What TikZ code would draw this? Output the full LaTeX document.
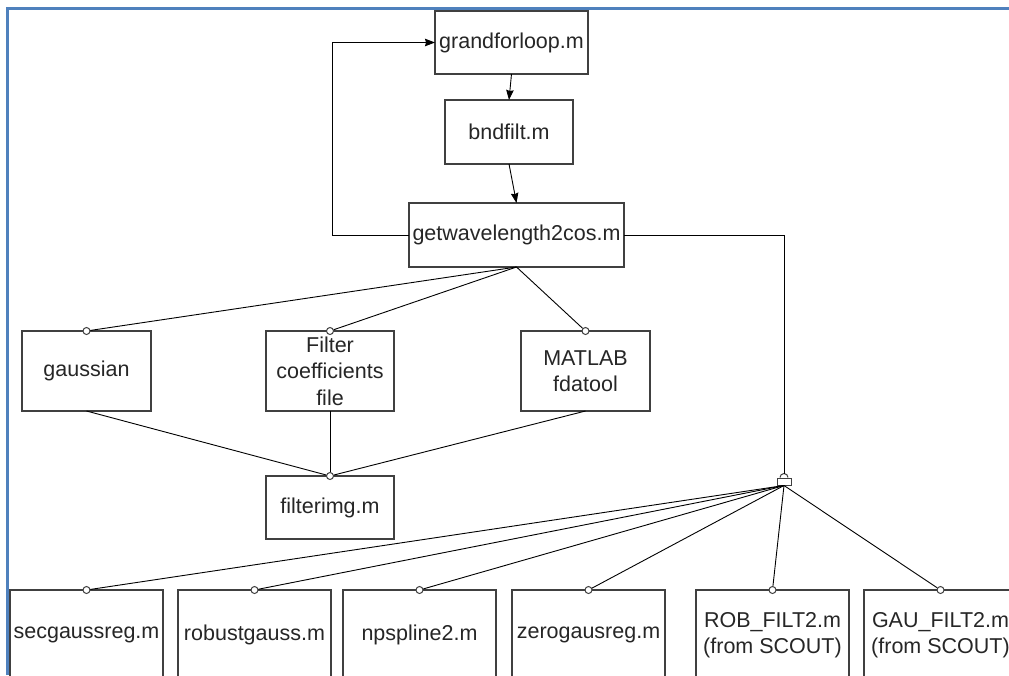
\documentclass[tikz,border=0pt]{standalone}
\usepackage{fontspec}
\setmainfont{Liberation Sans}
\usetikzlibrary{arrows.meta,positioning,calc}
\definecolor{frameBlue}{HTML}{4F81BD}
\definecolor{boxGray}{HTML}{404040}

\begin{document}
\begin{tikzpicture}[
    x=1pt, y=1pt,
    node distance=26pt and 15pt,
    file/.style={rectangle, draw=boxGray, line width=1.3pt, fill=white,
                 minimum height=64pt, inner sep=1pt, outer sep=0pt,
                 align=center, text=black!85,
                 font=\fontsize{21.5}{26.5}\selectfont},
    wide/.style={file, minimum width=153pt, minimum height=90pt},
    port/.style={circle, draw=boxGray, fill=white, line width=1pt,
                 inner sep=0pt, minimum size=7pt},
    link/.style={line width=0.9pt},
    arrow/.style={link, -{Stealth[length=10pt,width=7.5pt,inset=1pt]}},
]
    \useasboundingbox (0,0) rectangle (1009,-675);
    \clip (0,0) rectangle (1009,-675);
    % window frame
    \draw[frameBlue, line width=3pt] (7,-675) -- (7,-8.5) -- (1009,-8.5);

    % main chain
    \node[file, minimum width=153pt, minimum height=63pt]
         (grand) at (511.5,-42.5) {grandforloop.m};
    \node[file, minimum width=128pt, below=26pt of grand, xshift=-2.5pt]
         (bnd) {bndfilt.m};
    \node[file, minimum width=215pt, below=39pt of bnd, xshift=7.5pt]
         (getw) {getwavelength2cos.m};

    % filter sources
    \node[file, minimum width=129pt, minimum height=80pt]
         (gauss) at (86.5,-371) {gaussian};
    \node[file, minimum width=128pt, minimum height=80pt, right=115pt of gauss]
         (coef) {Filter\\coefficients\\file};
    \node[file, minimum width=129pt, minimum height=80pt, right=127pt of coef]
         (fda) {MATLAB\\fdatool};
    \node[file, minimum width=128pt, minimum height=63pt, below=65pt of coef]
         (filt) {filterimg.m};

    % regression filters
    \node[wide] (sec) at (86.5,-635) {secgaussreg.m};
    \node[wide, right=15pt of sec] (rob) {robustgauss.m};
    \node[wide, right=12pt of rob] (nps) {npspline2.m};
    \node[wide, right=16pt of nps] (zero) {zerogausreg.m};
    \node[wide, right=31pt of zero] (robf) {ROB\_FILT2.m\\(from SCOUT)};
    \node[wide, right=15pt of robf] (gauf) {GAU\_FILT2.m\\(from SCOUT)};

    \foreach \n in {gauss,coef,fda,filt,sec,rob,nps,zero,robf,gauf}
        \node[port] (\n-in) at (\n.north) {};

    % branch connector
    \node[rectangle, draw=boxGray, line width=1pt, fill=white,
          minimum width=14pt, minimum height=7pt, inner sep=0pt]
         (hub) at (784,-481.5) {};
    \draw[boxGray, line width=1pt] ($(hub.north)+(-4,0)$)
         arc[start angle=180, end angle=0, radius=4];
    \coordinate (hubtop) at ($(hub.north)+(0,4)$);

    \draw[arrow] (grand.south) -- (bnd.north);
    \draw[arrow] (bnd.south) -- (getw.north);
    \draw[arrow] (getw.west) -- ++(-77,0) |- (grand.west);
    \draw[link] (getw.east) -| (hubtop);
    \foreach \n in {gauss,coef,fda}
        \draw[link] (getw.south) -- (\n-in);
    \foreach \n in {gauss,coef,fda}
        \draw[link] (\n.south) -- (filt-in);
    \foreach \n in {sec,rob,nps,zero,robf,gauf}
        \draw[link] (hub.south) -- (\n-in);
\end{tikzpicture}
\end{document}
